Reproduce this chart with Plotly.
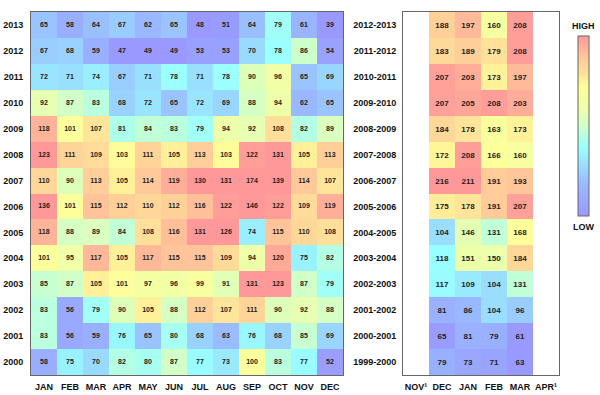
import plotly.graph_objects as go

months = ["JAN", "FEB", "MAR", "APR", "MAY", "JUN", "JUL", "AUG", "SEP", "OCT", "NOV", "DEC"]
years = ["2013", "2012", "2011", "2010", "2009", "2008", "2007", "2006", "2005", "2004", "2003", "2002", "2001", "2000"]
monthly = [
    [65, 58, 64, 67, 62, 65, 48, 51, 64, 79, 61, 39],
    [67, 68, 59, 47, 49, 49, 53, 53, 70, 78, 86, 54],
    [72, 71, 74, 67, 71, 78, 71, 78, 90, 96, 65, 69],
    [92, 87, 83, 68, 72, 65, 72, 69, 88, 94, 62, 65],
    [118, 101, 107, 81, 84, 83, 79, 94, 92, 108, 82, 89],
    [123, 111, 109, 103, 111, 105, 113, 103, 122, 131, 105, 113],
    [110, 90, 113, 105, 114, 119, 130, 131, 174, 139, 114, 107],
    [136, 101, 115, 112, 110, 112, 116, 122, 146, 122, 109, 119],
    [118, 88, 89, 84, 108, 116, 131, 126, 74, 115, 110, 108],
    [101, 95, 117, 105, 117, 115, 115, 109, 94, 120, 75, 82],
    [85, 87, 105, 101, 97, 96, 99, 91, 131, 123, 87, 79],
    [83, 56, 79, 90, 105, 88, 112, 107, 111, 90, 92, 88],
    [83, 56, 59, 76, 65, 80, 68, 63, 76, 68, 85, 69],
    [58, 75, 70, 82, 80, 87, 77, 73, 100, 83, 77, 52],
]

season_axis = ["NOV¹", "DEC", "JAN", "FEB", "MAR", "APR¹"]
season_months = ["DEC", "JAN", "FEB", "MAR"]
seasons = ["2012-2013", "2011-2012", "2010-2011", "2009-2010", "2008-2009", "2007-2008", "2006-2007",
           "2005-2006", "2004-2005", "2003-2004", "2002-2003", "2001-2002", "2000-2001", "1999-2000"]
seasonal = [
    [188, 197, 160, 208],
    [183, 189, 179, 208],
    [207, 203, 173, 197],
    [207, 205, 208, 203],
    [184, 178, 163, 173],
    [172, 208, 166, 160],
    [216, 211, 191, 193],
    [175, 178, 191, 207],
    [104, 146, 131, 168],
    [118, 151, 150, 184],
    [117, 109, 104, 131],
    [81, 86, 104, 96],
    [65, 81, 79, 61],
    [79, 73, 71, 63],
]

cscale = [
    [0.0, "#9999ff"],
    [0.18, "#99bbff"],
    [0.38, "#99ffff"],
    [0.49, "#ccffcc"],
    [0.6, "#eeffaa"],
    [0.72, "#ffff99"],
    [0.8, "#ffdd99"],
    [0.87, "#ffcc99"],
    [1.0, "#ff9999"],
]

FONT = "Liberation Sans, Arial, sans-serif"
W, H = 600, 395

fig = go.Figure()
fig.add_trace(go.Heatmap(
    z=monthly[::-1], x=months, y=years[::-1], colorscale=cscale, zmin=50, zmax=123,
    texttemplate="<b>%{z}</b>", textfont=dict(size=7, color="#222", family=FONT),
    showscale=False, hoverinfo="skip", xaxis="x", yaxis="y",
))
fig.add_trace(go.Heatmap(
    z=seasonal[::-1], x=season_months, y=seasons[::-1], colorscale=cscale, zmin=62, zmax=210,
    texttemplate="<b>%{z}</b>", textfont=dict(size=8, color="#222", family=FONT),
    hoverinfo="skip", xaxis="x2", yaxis="y2",
    colorbar=dict(
        x=578 / W, xanchor="left", y=1 - 36 / H, yanchor="top",
        len=(216 - 36) / H, lenmode="fraction", thickness=11, thicknessmode="pixels",
        outlinewidth=1, outlinecolor="#666", showticklabels=False, ticks="",
        xpad=0, ypad=0,
    ),
))

ydom = [1 - 375 / H, 1 - 12 / H]
axis_common = dict(showline=True, linecolor="#666", linewidth=1, mirror=True,
                   showgrid=False, zeroline=False, fixedrange=True,
                   tickfont=dict(size=9, color="#111", family=FONT))
fig.update_layout(
    width=W, height=H,
    margin=dict(l=0, r=0, t=0, b=0),
    paper_bgcolor="white", plot_bgcolor="white",
    font=dict(family=FONT),
    xaxis=dict(domain=[31 / W, 343 / W], anchor="y", type="category",
               ticks="outside", ticklen=3, tickcolor="rgba(0,0,0,0)",
               tickprefix="<b>", ticksuffix="</b>", **axis_common),
    yaxis=dict(domain=ydom, anchor="x", type="category",
               ticks="outside", ticklen=5, tickcolor="rgba(0,0,0,0)",
               tickprefix="<b>", ticksuffix="</b>", **axis_common),
    xaxis2=dict(domain=[403 / W, 559 / W], anchor="y2", type="category",
                categoryorder="array", categoryarray=season_axis, range=[-0.5, 5.5],
                ticks="outside", ticklen=3, tickcolor="rgba(0,0,0,0)",
                tickprefix="<b>", ticksuffix="</b>", **axis_common),
    yaxis2=dict(domain=ydom, anchor="x2", type="category",
                ticks="outside", ticklen=4, tickcolor="rgba(0,0,0,0)",
                tickprefix="<b>", ticksuffix="</b>", **axis_common),
    annotations=[
        dict(text="<b>HIGH</b>", x=583.5 / W, y=1 - 26 / H, xref="paper", yref="paper",
             xanchor="center", yanchor="middle",
             showarrow=False, font=dict(size=9, color="#111", family=FONT)),
        dict(text="<b>LOW</b>", x=583.5 / W, y=1 - 227 / H, xref="paper", yref="paper",
             xanchor="center", yanchor="middle",
             showarrow=False, font=dict(size=9, color="#111", family=FONT)),
    ],
)

fig.write_html("out.html", config={"displayModeBar": False},
               post_script="document.body.style.margin='0';document.body.style.overflow='hidden';")
